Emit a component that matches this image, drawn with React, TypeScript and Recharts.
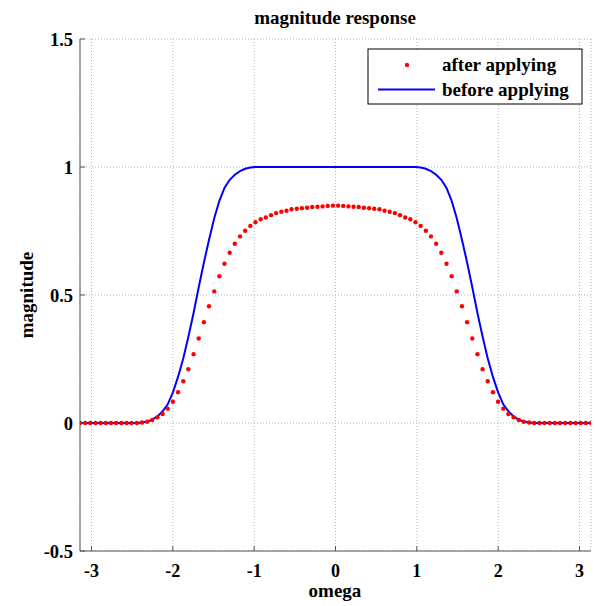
import React from 'react';
import { LineChart, Line, XAxis, YAxis, CartesianGrid } from 'recharts';

// sample grid, -pi .. pi, 100 points
const omega = [
  -3.142, -3.078, -3.015, -2.951, -2.888, -2.824, -2.761, -2.697, -2.634, -2.570,
  -2.507, -2.443, -2.380, -2.316, -2.253, -2.190, -2.126, -2.063, -1.999, -1.936,
  -1.872, -1.809, -1.745, -1.682, -1.618, -1.555, -1.491, -1.428, -1.365, -1.301,
  -1.238, -1.174, -1.111, -1.047, -0.984, -0.920, -0.857, -0.793, -0.730, -0.666,
  -0.603, -0.540, -0.476, -0.413, -0.349, -0.286, -0.222, -0.159, -0.095, -0.032,
  0.032, 0.095, 0.159, 0.222, 0.286, 0.349, 0.413, 0.476, 0.540, 0.603,
  0.666, 0.730, 0.793, 0.857, 0.920, 0.984, 1.047, 1.111, 1.174, 1.238,
  1.301, 1.365, 1.428, 1.491, 1.555, 1.618, 1.682, 1.745, 1.809, 1.872,
  1.936, 1.999, 2.063, 2.126, 2.190, 2.253, 2.316, 2.380, 2.443, 2.507,
  2.570, 2.634, 2.697, 2.761, 2.824, 2.888, 2.951, 3.015, 3.078, 3.142,
];

const afterApplying = [
  0, 0, 0, 0, 0, 0, 0, 0, 0, 0,
  0, 0, 0.002, 0.005, 0.012, 0.022, 0.035, 0.056, 0.083, 0.12,
  0.163, 0.21, 0.269, 0.33, 0.394, 0.456, 0.514, 0.573, 0.622, 0.665,
  0.7, 0.729, 0.751, 0.77, 0.784, 0.796, 0.803, 0.812, 0.82, 0.825,
  0.829, 0.835, 0.837, 0.839, 0.841, 0.844, 0.845, 0.846, 0.848, 0.849,
  0.849, 0.848, 0.846, 0.845, 0.844, 0.841, 0.839, 0.837, 0.835, 0.829,
  0.825, 0.82, 0.812, 0.803, 0.796, 0.784, 0.77, 0.751, 0.729, 0.7,
  0.665, 0.622, 0.573, 0.514, 0.456, 0.394, 0.33, 0.269, 0.21, 0.163,
  0.12, 0.083, 0.056, 0.035, 0.022, 0.012, 0.005, 0.002, 0, 0,
  0, 0, 0, 0, 0, 0, 0, 0, 0, 0,
];

const beforeApplying = [
  0, 0, 0, 0, 0, 0, 0, 0, 0, 0,
  0, 0, 0.002, 0.005, 0.013, 0.026, 0.046, 0.073, 0.12, 0.18,
  0.252, 0.337, 0.43, 0.53, 0.627, 0.716, 0.8, 0.868, 0.918, 0.95,
  0.97, 0.984, 0.993, 0.998, 1, 1, 1, 1, 1, 1,
  1, 1, 1, 1, 1, 1, 1, 1, 1, 1,
  1, 1, 1, 1, 1, 1, 1, 1, 1, 1,
  1, 1, 1, 1, 1, 1, 0.998, 0.993, 0.984, 0.97,
  0.95, 0.918, 0.868, 0.8, 0.716, 0.627, 0.53, 0.43, 0.337, 0.252,
  0.18, 0.12, 0.073, 0.046, 0.026, 0.013, 0.005, 0.002, 0, 0,
  0, 0, 0, 0, 0, 0, 0, 0, 0, 0,
];

const xTicks = [-3, -2, -1, 0, 1, 2, 3];
const yTicks = [-0.5, 0, 0.5, 1, 1.5];

const data = omega.map((w, i) => ({
  omega: w,
  after: afterApplying[i],
  before: beforeApplying[i],
}));

const font = '"Liberation Serif", "Times New Roman", serif';
const axisColor = '#555';

const XTick = (props: any) => {
  const { x, y, payload } = props;
  return (
    <g>
      <line x1={x} y1={y} x2={x} y2={y - 5} stroke={axisColor} />
      <text x={x} y={y + 26} textAnchor="middle" fontFamily={font} fontWeight="bold" fontSize={18} fill="#000">
        {payload.value}
      </text>
    </g>
  );
};

const YTick = (props: any) => {
  const { x, y, payload } = props;
  return (
    <g>
      <line x1={x} y1={y} x2={x + 5} y2={y} stroke={axisColor} />
      <text x={x - 7} y={y + 6.5} textAnchor="end" fontFamily={font} fontWeight="bold" fontSize={18.5} fill="#000">
        {payload.value}
      </text>
    </g>
  );
};

const App = () => {
  return (
    <div style={{ position: 'absolute', left: 0, top: 0, width: 595, height: 606, background: '#fff' }}>
      <LineChart
        width={595}
        height={606}
        data={data}
        margin={{ top: 39, right: 4, bottom: 0, left: 0 }}
      >
        <CartesianGrid stroke="#b5b5b5" strokeDasharray="1 2" />
        <XAxis
          dataKey="omega"
          type="number"
          domain={[-Math.PI, Math.PI]}
          ticks={xTicks}
          allowDataOverflow
          height={55}
          tickSize={0}
          tickMargin={0}
          tick={<XTick />}
          stroke={axisColor}
          interval={0}
        />
        <YAxis
          type="number"
          domain={[-0.5, 1.5]}
          ticks={yTicks}
          width={80}
          tickSize={0}
          tickMargin={0}
          tick={<YTick />}
          stroke={axisColor}
          interval={0}
        />
        <Line
          type="linear"
          dataKey="before"
          stroke="#0000ff"
          strokeWidth={2}
          dot={false}
          activeDot={false}
          isAnimationActive={false}
        />
        <Line
          type="linear"
          dataKey="after"
          stroke="none"
          dot={{ r: 2.2, fill: '#ff0000', stroke: 'none' }}
          activeDot={false}
          isAnimationActive={false}
        />
      </LineChart>

      <svg
        width={595}
        height={606}
        style={{ position: 'absolute', left: 0, top: 0, pointerEvents: 'none' }}
      >
        <text x={335} y={24} textAnchor="middle" fontFamily={font} fontWeight="bold" fontSize={19}>
          magnitude response
        </text>
        <text x={335} y={597} textAnchor="middle" fontFamily={font} fontWeight="bold" fontSize={19}>
          omega
        </text>
        <text
          x={33}
          y={295}
          textAnchor="middle"
          transform="rotate(-90, 33, 295)"
          fontFamily={font}
          fontWeight="bold"
          fontSize={19}
        >
          magnitude
        </text>

        <rect x={368} y={49} width={214} height={55} fill="#fff" stroke="#000" strokeWidth={1} />
        <circle cx={407} cy={65} r={2.2} fill="#ff0000" />
        <text x={442} y={71} fontFamily={font} fontWeight="bold" fontSize={19}>
          after applying
        </text>
        <line x1={378} y1={89.5} x2={435} y2={89.5} stroke="#0000ff" strokeWidth={2} />
        <text x={442} y={96} fontFamily={font} fontWeight="bold" fontSize={19}>
          before applying
        </text>
      </svg>
    </div>
  );
};

export default App;
